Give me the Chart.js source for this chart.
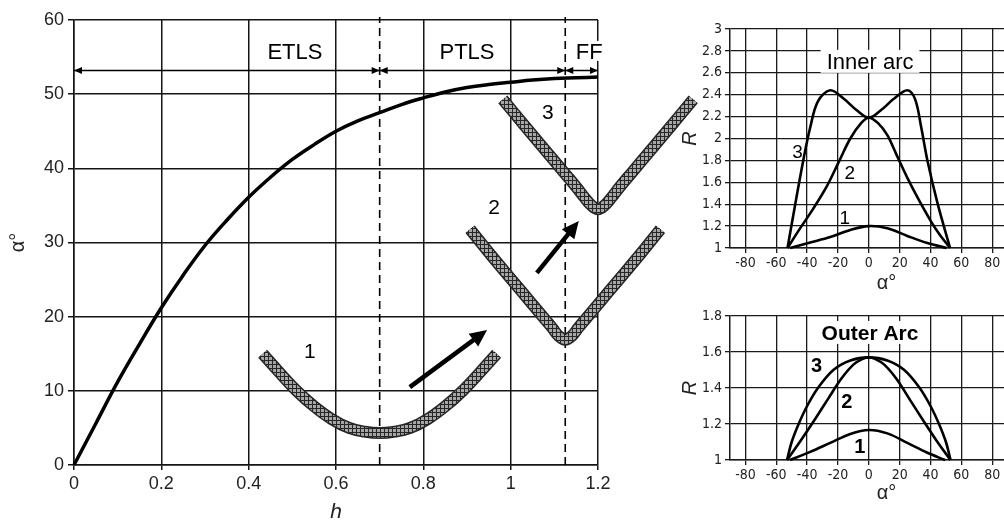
<!DOCTYPE html>
<html>
<head>
<meta charset="utf-8">
<script src="https://cdn.jsdelivr.net/npm/chart.js@4.4.1/dist/chart.umd.min.js"></script>
<style>
  html, body { margin: 0; padding: 0; background: #fff; overflow: hidden; width: 1004px; height: 523px; }
  canvas { position: absolute; }
  #cMain { left: 0; top: 0; z-index: 2; }
  #cInner { left: 680px; top: 0; z-index: 1; }
  #cOuter { left: 680px; top: 290px; z-index: 1; }
</style>
</head>
<body>
<canvas id="cMain" width="720" height="523"></canvas>
<canvas id="cInner" width="380" height="300"></canvas>
<canvas id="cOuter" width="380" height="233"></canvas>
<script>
// ---- main chart data (alpha vs h) ----
const hTicks = [0, 0.2, 0.4, 0.6, 0.8, 1, 1.2];
const alphaTicks = [0, 10, 20, 30, 40, 50, 60];

const curveH = [0, 0.05, 0.1, 0.15, 0.2, 0.25, 0.3, 0.35, 0.4, 0.45, 0.5, 0.55, 0.6, 0.65, 0.7, 0.75, 0.8, 0.85, 0.9, 0.95, 1.0, 1.05, 1.1, 1.15, 1.2];
const curveAlpha = [0, 5.6, 11.2, 16.3, 21.2, 25.6, 29.6, 33.0, 36.1, 38.8, 41.2, 43.2, 45.0, 46.4, 47.5, 48.6, 49.5, 50.3, 50.9, 51.3, 51.6, 51.9, 52.1, 52.2, 52.3];

const band1H = [0.432, 0.47, 0.51, 0.55, 0.59, 0.63, 0.665, 0.7, 0.735, 0.77, 0.81, 0.85, 0.89, 0.93, 0.968];
const band1A = [15.0, 12.5, 10.0, 7.9, 6.2, 5.0, 4.5, 4.3, 4.5, 5.0, 6.2, 7.9, 10.0, 12.5, 15.0];
const band2H = [0.907, 0.955, 1.005, 1.045, 1.075, 1.095, 1.11, 1.125, 1.14, 1.155, 1.175, 1.205, 1.245, 1.295, 1.343];
const band2A = [31.8, 28.3, 24.8, 22.0, 19.9, 18.5, 17.4, 16.9, 17.4, 18.5, 19.9, 22.0, 24.8, 28.3, 31.8];
const band3H = [0.982, 1.03, 1.08, 1.12, 1.15, 1.17, 1.185, 1.2, 1.215, 1.23, 1.25, 1.28, 1.32, 1.37, 1.418];
const band3A = [49.3, 45.9, 42.4, 39.6, 37.5, 36.0, 35.0, 34.5, 35.0, 36.0, 37.5, 39.6, 42.4, 45.9, 49.3];

const dashedH = [0.7, 1.125];
const regionBounds = [0, 0.7, 1.125, 1.2];
const regionNames = ['ETLS', 'PTLS', 'FF'];
const regionLabelH = [0.506, 0.9, 1.18];
const regionArrowAlpha = 53.2;
const regionLabelAlpha = 55.7;

const bandNames = ['1', '2', '3'];
const bandLabelH = [0.54, 0.962, 1.085];
const bandLabelA = [15.2, 34.6, 47.4];

const arrowFrom = [[0.769, 10.5], [1.06, 25.9]];
const arrowTo = [[0.946, 18.2], [1.156, 32.9]];

// ---- small charts data (R vs alpha) ----
const angTicks = [-80, -60, -40, -20, 0, 20, 40, 60, 80];
const angMin = -90, angMax = 113;
const innerRTicks = [1, 1.2, 1.4, 1.6, 1.8, 2, 2.2, 2.4, 2.6, 2.8, 3];
const outerRTicks = [1, 1.2, 1.4, 1.6, 1.8];

const in1Ang = [-51, -38, -25, -12, 0, 12, 25, 38, 50.5];
const in1R = [1, 1.05, 1.1, 1.165, 1.2, 1.18, 1.11, 1.045, 1.0];
const in2Ang = [-52.7, -45, -36, -27, -19, -12, -5, 0, 6, 12, 18, 25, 32, 40, 46, 52.7];
const in2R = [1, 1.17, 1.36, 1.57, 1.8, 2.0, 2.14, 2.19, 2.14, 2.03, 1.85, 1.64, 1.45, 1.25, 1.12, 1.0];
const in3Ang = [-52.7, -47.7, -42.5, -38, -33, -25, -16, -8, 0, 8, 16, 25, 30, 34, 38, 44.7, 52.7];
const in3R = [1, 1.4, 1.8, 2.1, 2.34, 2.44, 2.36, 2.26, 2.19, 2.26, 2.36, 2.44, 2.36, 2.1, 1.8, 1.4, 1.0];

const out1Ang = [-51, -38, -25, -12, 0, 12, 25, 38, 49.5];
const out1R = [1, 1.045, 1.095, 1.145, 1.167, 1.148, 1.095, 1.04, 1.0];
const out2Ang = [-53, -44, -35, -26, -18, -10, -4, 0, 4, 10, 18, 27, 36, 44.5, 53];
const out2R = [1, 1.11, 1.225, 1.345, 1.45, 1.53, 1.562, 1.57, 1.562, 1.53, 1.45, 1.33, 1.21, 1.1, 1.0];
const out3Ang = [-53, -50, -45.5, -40, -33, -23, -12, 0, 12, 23, 33, 40, 45.5, 50, 53];
const out3R = [1, 1.1, 1.2, 1.3, 1.4, 1.5, 1.553, 1.57, 1.553, 1.5, 1.4, 1.3, 1.2, 1.1, 1.0];

const innerLabels = ['1', '2', '3'];
const innerLabelAng = [-15.6, -12.4, -46.2];
const innerLabelR = [1.27, 1.68, 1.87];
const outerLabels = ['1', '2', '3'];
const outerLabelAng = [-5.9, -14.3, -33.8];
const outerLabelR = [1.07, 1.32, 1.517];

const FONT = '"Liberation Sans", Arial, sans-serif';
const NARROW = '"Liberation Sans Narrow", "Arial Narrow", "DejaVu Sans Condensed", sans-serif';

function pts(xs, ys) {
  return xs.map((x, i) => ({ x: x, y: ys[i] }));
}

// grey checkered fill used for the thick bands
function checker() {
  const c = document.createElement('canvas');
  c.width = 4; c.height = 4;
  const g = c.getContext('2d');
  g.fillStyle = '#262626';
  g.fillRect(0, 0, 4, 4);
  g.fillStyle = '#a6a6a6';
  g.fillRect(1, 1, 3, 3);
  return g.createPattern(c, 'repeat');
}
const bandFill = checker();

function lineSet(data, color, width, order, extra) {
  return Object.assign({
    data: data, showLine: true, borderColor: color, borderWidth: width,
    pointRadius: 0, fill: false, clip: false, order: order,
    tension: 0.4, borderCapStyle: 'butt'
  }, extra || {});
}

function arrowHead(ctx, x, y, dx, dy, len, half) {
  const n = Math.hypot(dx, dy);
  const ux = dx / n, uy = dy / n;
  ctx.beginPath();
  ctx.moveTo(x, y);
  ctx.lineTo(x - ux * len - uy * half, y - uy * len + ux * half);
  ctx.lineTo(x - ux * len + uy * half, y - uy * len - ux * half);
  ctx.closePath();
  ctx.fill();
}

const mainDecor = {
  id: 'mainDecor',
  afterDatasetsDraw(chart) {
    const ctx = chart.ctx;
    const x = chart.scales.x, y = chart.scales.y;
    ctx.save();
    ctx.strokeStyle = '#000';
    ctx.fillStyle = '#000';

    // region arrows along the top
    const ya = y.getPixelForValue(regionArrowAlpha);
    ctx.lineWidth = 1.5;
    for (let i = 0; i < regionBounds.length - 1; i++) {
      const x0 = x.getPixelForValue(regionBounds[i]);
      const x1 = x.getPixelForValue(regionBounds[i + 1]);
      ctx.beginPath();
      ctx.moveTo(x0, ya);
      ctx.lineTo(x1, ya);
      ctx.stroke();
      arrowHead(ctx, x0, ya, -1, 0, 8, 3.5);
      arrowHead(ctx, x1, ya, 1, 0, 8, 3.5);
    }

    // region names
    ctx.font = '22px ' + FONT;
    ctx.textAlign = 'center';
    ctx.textBaseline = 'middle';
    const yl = y.getPixelForValue(regionLabelAlpha);
    regionNames.forEach((t, i) => {
      const xl = x.getPixelForValue(regionLabelH[i]);
      if (i === regionNames.length - 1) {
        const w = ctx.measureText(t).width;
        ctx.fillStyle = '#fff';
        ctx.fillRect(xl - w / 2 - 1, yl - 11, w + 6, 20);
        ctx.fillStyle = '#000';
      }
      ctx.fillText(t, xl, yl + 1);
    });

    // band numbers
    ctx.font = '21px ' + FONT;
    bandNames.forEach((t, i) => {
      ctx.fillText(t, x.getPixelForValue(bandLabelH[i]), y.getPixelForValue(bandLabelA[i]));
    });

    // thick arrows
    ctx.lineWidth = 4.5;
    arrowFrom.forEach((p, i) => {
      const x0 = x.getPixelForValue(p[0]), y0 = y.getPixelForValue(p[1]);
      const x1 = x.getPixelForValue(arrowTo[i][0]), y1 = y.getPixelForValue(arrowTo[i][1]);
      const dx = x1 - x0, dy = y1 - y0, n = Math.hypot(dx, dy);
      ctx.beginPath();
      ctx.moveTo(x0, y0);
      ctx.lineTo(x1 - dx / n * 12, y1 - dy / n * 12);
      ctx.stroke();
      arrowHead(ctx, x1, y1, dx, dy, 17, 8);
    });
    ctx.restore();
  }
};

new Chart(document.getElementById('cMain'), {
  type: 'scatter',
  data: {
    datasets: [
      lineSet(pts(curveH, curveAlpha), '#000', 3.5, 5),
      lineSet(pts([dashedH[0], dashedH[0]], [0, 60.4]), '#000', 1.6, 6, { borderDash: [8, 5], tension: 0 }),
      lineSet(pts([dashedH[1], dashedH[1]], [0, 60.4]), '#000', 1.6, 6, { borderDash: [8, 5], tension: 0 }),
      lineSet(pts(band1H, band1A), '#262626', 12, 4),
      lineSet(pts(band1H, band1A), bandFill, 9, 3),
      lineSet(pts(band2H, band2A), '#262626', 12, 4),
      lineSet(pts(band2H, band2A), bandFill, 9, 3),
      lineSet(pts(band3H, band3A), '#262626', 12, 4),
      lineSet(pts(band3H, band3A), bandFill, 9, 3)
    ]
  },
  options: {
    responsive: false,
    animation: false,
    layout: { padding: { left: 0, top: 20, right: 122, bottom: 0 } },
    plugins: { legend: { display: false }, tooltip: { enabled: false } },
    scales: {
      x: {
        type: 'linear',
        bounds: 'data',
        afterDataLimits: s => { s.min = hTicks[0]; s.max = hTicks[hTicks.length - 1]; },
        afterBuildTicks: s => { s.ticks = hTicks.map(v => ({ value: v })); },
        afterFit: s => { s.height = 58; },
        grid: { color: '#151515', lineWidth: 1.5, tickLength: 5 },
        border: { color: '#151515', width: 1.5 },
        ticks: { color: '#222', font: { family: FONT, size: 18 }, padding: 3, maxRotation: 0, autoSkip: false, callback: v => String(v) },
        title: { display: true, text: 'h', color: '#222', font: { family: FONT, size: 21, style: 'italic', lineHeight: 1 }, padding: { top: 0, bottom: 0 } }
      },
      y: {
        type: 'linear',
        min: alphaTicks[0],
        max: alphaTicks[alphaTicks.length - 1],
        afterBuildTicks: s => { s.ticks = alphaTicks.map(v => ({ value: v })); },
        afterFit: s => { s.width = 74; },
        grid: { color: '#151515', lineWidth: 1.5, tickLength: 6 },
        border: { color: '#151515', width: 1.5 },
        ticks: { color: '#222', font: { family: FONT, size: 18 }, padding: 4, callback: v => String(v) },
        title: { display: true, text: 'α°', color: '#222', font: { family: FONT, size: 20, lineHeight: 1 }, padding: { top: 8, bottom: 0 } }
      }
    }
  },
  plugins: [mainDecor]
});

// ---- small R vs alpha charts ----
function smallChart(id, rTicks, curves, boxText, boxAng, boxR, bold, labels, labAng, labR, padTop, xHeight, titlePad) {
  const decor = {
    id: 'decor' + id,
    afterDatasetsDraw(chart) {
      const ctx = chart.ctx;
      const x = chart.scales.x, y = chart.scales.y;
      ctx.save();
      ctx.textAlign = 'center';
      ctx.textBaseline = 'middle';
      ctx.font = (bold ? 'bold 21px ' : '22px ') + FONT;
      const bx = x.getPixelForValue(boxAng), by = y.getPixelForValue(boxR);
      const w = ctx.measureText(boxText).width;
      ctx.fillStyle = '#fff';
      ctx.fillRect(bx - w / 2 - 6, by - 12, w + 12, 23);
      ctx.fillStyle = '#000';
      ctx.fillText(boxText, bx, by + 1);
      ctx.font = (bold ? 'bold 20px ' : '19px ') + FONT;
      labels.forEach((t, i) => {
        ctx.fillText(t, x.getPixelForValue(labAng[i]), y.getPixelForValue(labR[i]));
      });
      ctx.restore();
    }
  };
  new Chart(document.getElementById(id), {
    type: 'scatter',
    data: {
      datasets: curves.map((c, i) => lineSet(pts(c[0], c[1]), '#000', 2.6, i, { tension: 0.35 }))
    },
    options: {
      responsive: false,
      animation: false,
      layout: { padding: { left: 0, top: padTop, right: 16.9, bottom: 0 } },
      plugins: { legend: { display: false }, tooltip: { enabled: false } },
      scales: {
        x: {
          type: 'linear',
          min: angMin,
          max: angMax,
          afterBuildTicks: s => { s.ticks = angTicks.map(v => ({ value: v })); },
          afterFit: s => { s.height = xHeight; },
          grid: { color: '#1a1a1a', lineWidth: 1.3, tickLength: 5 },
          border: { color: '#1a1a1a', width: 1.5 },
          ticks: { color: '#222', font: { family: NARROW, size: 14 }, padding: 2, maxRotation: 0, autoSkip: false, callback: v => String(v) },
          title: { display: true, text: 'α°', color: '#222', font: { family: FONT, size: 20, lineHeight: 1 }, padding: { top: 0, bottom: titlePad } }
        },
        y: {
          type: 'linear',
          min: rTicks[0],
          max: rTicks[rTicks.length - 1],
          afterBuildTicks: s => { s.ticks = rTicks.map(v => ({ value: v })); },
          afterFit: s => { s.width = 50; },
          grid: { color: '#1a1a1a', lineWidth: 1.3, tickLength: 5 },
          border: { color: '#1a1a1a', width: 1.5 },
          ticks: { color: '#222', font: { family: NARROW, size: 14 }, padding: 3, callback: v => String(Number(v.toFixed(1))) },
          title: { display: true, text: 'R', color: '#222', font: { family: FONT, size: 20, style: 'italic', lineHeight: 1 }, padding: { top: 0, bottom: 0 } }
        }
      }
    },
    plugins: [decor]
  });
}

smallChart('cInner', innerRTicks,
  [[in1Ang, in1R], [in2Ang, in2R], [in3Ang, in3R]],
  'Inner arc', 0.8, 2.70, false,
  innerLabels, innerLabelAng, innerLabelR, 29, 52, 7);

smallChart('cOuter', outerRTicks,
  [[out1Ang, out1R], [out2Ang, out2R], [out3Ang, out3R]],
  'Outer Arc', 0.8, 1.706, true,
  outerLabels, outerLabelAng, outerLabelR, 26, 63, 20);
</script>
</body>
</html>
